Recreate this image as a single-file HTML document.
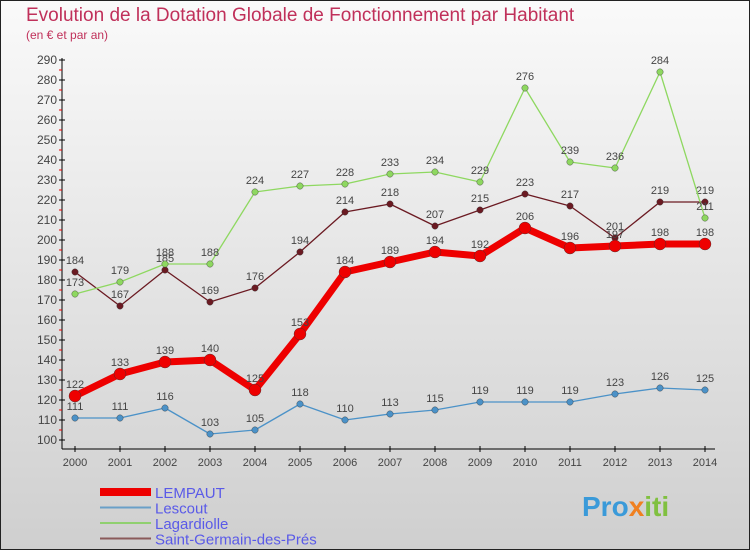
<!DOCTYPE html>
<html><head><meta charset="utf-8"><style>
body{margin:0}
svg{display:block;font-family:"Liberation Sans",sans-serif}
</style></head><body>
<svg id="c" width="750" height="550" xmlns="http://www.w3.org/2000/svg">
<defs><linearGradient id="bg" x1="0" y1="0" x2="0" y2="1"><stop offset="0" stop-color="#fafafa"/><stop offset="1" stop-color="#cfcfcf"/></linearGradient></defs>
<rect x="0.5" y="0.5" width="749" height="549" fill="url(#bg)" stroke="#222"/>
<text x="26" y="21" font-size="19" fill="#c0305a">Evolution de la Dotation Globale de Fonctionnement par Habitant</text>
<text x="26" y="39" font-size="12" fill="#c0305a">(en € et par an)</text>
<g id="axes"></g><g id="series"></g><g id="legend"></g>
<text x="582" y="516" font-size="28" font-weight="bold" fill="#3a9ad9">Pro<tspan fill="#f08020">x</tspan><tspan fill="#80c040">iti</tspan></text>
</svg>
<script>
const years=[2000,2001,2002,2003,2004,2005,2006,2007,2008,2009,2010,2011,2012,2013,2014];
const lempaut=[122,133,139,140,125,153,184,189,194,192,206,196,197,198,198];
const lescout=[111,111,116,103,105,118,110,113,115,119,119,119,123,126,125];
const lagardiolle=[173,179,188,188,224,227,228,233,234,229,276,239,236,284,211];
const saintGermain=[184,167,185,169,176,194,214,218,207,215,223,217,201,219,219];
const yTicks=[100,110,120,130,140,150,160,170,180,190,200,210,220,230,240,250,260,270,280,290];
const NS="http://www.w3.org/2000/svg";
const xS=i=>75+i*45, yS=v=>440-(v-100)*2;
function mk(t,a,p){const e=document.createElementNS(NS,t);for(const k in a)e.setAttribute(k,a[k]);p.appendChild(e);return e;}
const ax=document.getElementById('axes');
let l=mk('line',{x1:62,y1:58,x2:62,y2:449,stroke:'#000'},ax);


l=mk('line',{x1:62,y1:449,x2:715,y2:449,stroke:'#000'},ax);


yTicks.forEach((v,k)=>{const y=yS(v);
 mk('line',{x1:59,y1:y,x2:65,y2:y,stroke:'#000'},ax);
 if(k<yTicks.length-1) mk('line',{x1:59,y1:y-10,x2:62,y2:y-10,stroke:'#e00'},ax);
 const t=mk('text',{x:57,y:y+4,'font-size':12,fill:'#444','text-anchor':'end'},ax);t.textContent=v;
 
 });
years.forEach((yr,i)=>{const x=xS(i);
 mk('line',{x1:x,y1:446,x2:x,y2:452,stroke:'#000'},ax);
 const t=mk('text',{x:x,y:466,'font-size':11,fill:'#444','text-anchor':'middle'},ax);t.textContent=yr;
 
 });
const S=[
 {n:'saint-germain',d:saintGermain,c:'#6b1a22',w:1.3,r:3.2},
 {n:'lagardiolle',d:lagardiolle,c:'#8ed860',w:1.3,r:3.2},
 {n:'lescout',d:lescout,c:'#4b92c8',w:1.3,r:3.2},
 {n:'lempaut',d:lempaut,c:'#ee0000',w:7,r:6}];
const sg=document.getElementById('series');
S.forEach(s=>{const g=mk('g',{},sg);
 
 
 const p=mk('polyline',{points:s.d.map((v,i)=>xS(i)+','+yS(v)).join(' '),fill:'none',stroke:s.c,'stroke-width':s.w,'stroke-linejoin':'round'},g);
 
 
 s.d.forEach((v,i)=>{const c=mk('circle',{cx:xS(i),cy:yS(v),r:s.r,fill:s.c,stroke:'#333','stroke-width':0.4},g);
  
  
  const t=mk('text',{x:xS(i),y:yS(v)-8,'font-size':11,fill:'#444','text-anchor':'middle'},g);t.textContent=v;
  
  });});
const lg=document.getElementById('legend');
const L=[['LEMPAUT','#ee0000',8],['Lescout','#6aa0c8',2],['Lagardiolle','#90d070',2],['Saint-Germain-des-Prés','#8a5a5a',2]];
L.forEach((e,i)=>{const y=492+i*15.5;
 const ln=mk('line',{x1:100,y1:y,x2:151,y2:y,stroke:e[1],'stroke-width':e[2]},lg);
 
 
 const t=mk('text',{x:155,y:y+6,'font-size':15,fill:'#5a5ae8'},lg);t.textContent=e[0];
 
 });
</script>
</body></html>
